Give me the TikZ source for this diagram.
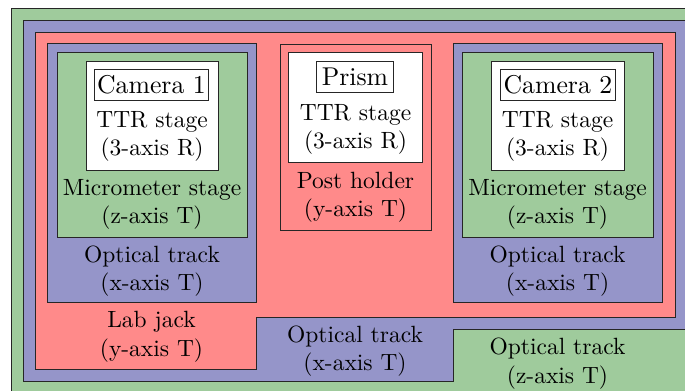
\documentclass[tikz,border=0pt]{standalone}
\definecolor{cgreen}{RGB}{159,203,156}
\definecolor{cblue}{RGB}{149,149,201}
\definecolor{cred}{RGB}{255,138,138}
\begin{document}
\begin{tikzpicture}[x=0.4255pt,y=-0.4255pt,
  part/.style={draw=black!85,line width=0.42pt},
  lbl/.style={align=center,inner sep=0pt,font=\fontsize{10}{12}\selectfont},
  tag/.style={draw=black!85,fill=white,line width=0.42pt,inner sep=0pt,minimum height=13.6pt,font=\fontsize{10.95}{13}\selectfont}]
\useasboundingbox (0,0) rectangle (685,390);
\fill[white] (0,0) rectangle (685,390);
% outer green base
\draw[part,fill=cgreen] (11.5,8) rectangle (720,420);
% blue optical track (x-axis)
\draw[part,fill=cblue] (23,20) -- (700,20) -- (700,329) -- (453,329) -- (453,381.5) -- (23,381.5) -- cycle;
% red lab jack
\draw[part,fill=cred] (35,32) -- (675,32) -- (675,317.5) -- (256.5,317.5) -- (256.5,369) -- (35,369) -- cycle;
% left column
\draw[part,fill=cblue] (47,43.5) rectangle (256.5,302.5);
\draw[part,fill=cgreen] (57,52.5) rectangle (247,237.5);
\draw[part,fill=white] (86,61) rectangle (218,170.5);
\node[tag,minimum width=48.4pt] (cam1) at (151.5,85) {Camera 1};
\node[lbl] (ttr1) at (152,136.2) {TTR stage\\(3-axis R)};
\node[lbl] (mic1) at (152,204.8) {Micrometer stage\\(z-axis T)};
\node[lbl] (opt1) at (152,270.8) {Optical track\\(x-axis T)};
\node[lbl] (lab) at (151.5,336.8) {Lab jack\\(y-axis T)};
% middle column
\draw[part,fill=cred] (280,44) rectangle (431,230);
\draw[part,fill=white] (288,52.5) rectangle (422,162.7);
\node[tag,minimum width=32.6pt] (prism) at (355,77) {Prism};
\node[lbl] (ttr2) at (355.5,129.5) {TTR stage\\(3-axis R)};
\node[lbl] (post) at (355.5,197) {Post holder\\(y-axis T)};
% right column
\draw[part,fill=cblue] (453,43.5) rectangle (662,302.5);
\draw[part,fill=cgreen] (462.5,52.5) rectangle (653,237.5);
\draw[part,fill=white] (491,61) rectangle (624,170.5);
\node[tag,minimum width=48.8pt] (cam2) at (558,85) {Camera 2};
\node[lbl] (ttr3) at (557.5,136.2) {TTR stage\\(3-axis R)};
\node[lbl] (mic2) at (557.5,204.8) {Micrometer stage\\(z-axis T)};
\node[lbl] (opt2) at (557.5,270.8) {Optical track\\(x-axis T)};
% bottom labels
\node[lbl] (optx) at (355,351.5) {Optical track\\(x-axis T)};
\node[lbl] (optz) at (557.5,363.6) {Optical track\\(z-axis T)};
\end{tikzpicture}
\end{document}
